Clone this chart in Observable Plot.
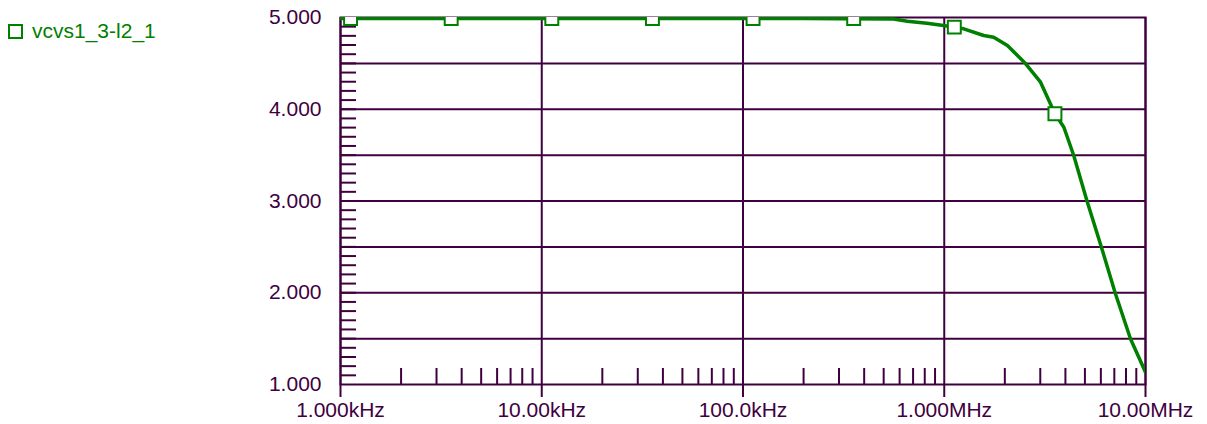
<!DOCTYPE html>
<html>
<head>
<meta charset="utf-8">
<script src="https://cdn.jsdelivr.net/npm/d3@7"></script>
<script src="https://cdn.jsdelivr.net/npm/@observablehq/plot@0.6"></script>
<style>
  html, body { margin: 0; padding: 0; background: #fff; }
  #wrap { position: relative; width: 1207px; height: 424px; font-family: "Liberation Sans", Arial, sans-serif; }
  #legend { position: absolute; left: 8px; top: 19px; display: flex; align-items: center; color: #008000; font-size: 21px; }
  #legend .swatch { width: 11px; height: 11px; border: 2px solid #008000; background: #fff; margin-right: 9px; }
</style>
</head>
<body>
<div id="wrap">
  <div id="legend"><span class="swatch"></span><span id="legend-label"></span></div>
</div>
<script>
// Trace name
const seriesName = "vcvs1_3-l2_1";

// Frequency response (Hz) and output level
const freq = [1e3, 1e4, 1e5, 2e5, 3e5, 5.6e5, 6.55e5, 8.2e5, 9.9e5, 1.25e6, 1.57e6, 1.76e6,
              2.06e6, 2.54e6, 3.01e6, 3.548e6, 3.93e6, 4.4e6, 5.13e6, 6.04e6, 7.09e6, 8.42e6, 1e7];
const level = [4.99, 4.99, 4.99, 4.988, 4.987, 4.984, 4.96, 4.938, 4.913, 4.877, 4.804, 4.785,
               4.695, 4.495, 4.295, 3.95, 3.804, 3.496, 2.995, 2.496, 1.989, 1.498, 1.134];

// Marker positions along the trace
const markerFreq = [1.122e3, 3.548e3, 1.122e4, 3.548e4, 1.122e5, 3.548e5, 1.122e6, 3.548e6];
const markerLevel = [4.99, 4.99, 4.99, 4.99, 4.99, 4.988, 4.895, 3.95];

// Axis ticks and labels
const xMajor = [1e3, 1e4, 1e5, 1e6, 1e7];
const xLabels = ["1.000kHz", "10.00kHz", "100.0kHz", "1.000MHz", "10.00MHz"];
const xMinor = [2, 3, 4, 5, 6, 7, 8, 9].flatMap(m => [1e3, 1e4, 1e5, 1e6].map(d => m * d));
const yMajor = [1, 2, 3, 4, 5];
const yLabels = ["1.000", "2.000", "3.000", "4.000", "5.000"];
const yGrid = [1.5, 2, 2.5, 3, 3.5, 4, 4.5];
const yMinor = d3.range(11, 50).map(v => v / 10);

const ink = "#400040";
const green = "#008000";
const W = 1207, H = 424;
const mL = 340, mR = 62, mT = 17, mB = 40;
const plotW = W - mL - mR, plotH = H - mT - mB;

const trace = freq.map((f, i) => ({f, v: level[i]}));
const markers = markerFreq.map((f, i) => ({f, v: markerLevel[i]}));
const xLabelOf = d => xLabels[xMajor.findIndex(t => Math.abs(t - d) < 1e-6 * t)];
const yLabelOf = d => yLabels[yMajor.findIndex(t => Math.abs(t - d) < 1e-9)];

document.getElementById("legend-label").textContent = seriesName;

const chart = Plot.plot({
  width: W,
  height: H,
  marginLeft: mL,
  marginRight: mR,
  marginTop: mT,
  marginBottom: mB,
  style: {fontFamily: "\"Liberation Sans\", Arial, sans-serif", fontSize: "21px", color: ink, background: "transparent", overflow: "visible"},
  x: {type: "log", domain: [1e3, 1e7]},
  y: {type: "linear", domain: [1, 5]},
  marks: [
    Plot.ruleY(yGrid, {y: d => d, stroke: ink, strokeWidth: 2}),
    Plot.ruleX(xMajor, {x: d => d, stroke: ink, strokeWidth: 2}),
    Plot.tickX(xMinor, {x: d => d, stroke: ink, strokeWidth: 2, insetTop: plotH - 16}),
    Plot.tickY(yMinor, {y: d => d, stroke: ink, strokeWidth: 2, insetRight: plotW - 16}),
    Plot.axisX({ticks: xMajor, tickFormat: xLabelOf, tickSize: 13, tickPadding: 5,
                stroke: ink, strokeWidth: 2, fill: ink, fontSize: 21, label: null}),
    Plot.axisY({ticks: yMajor, tickFormat: yLabelOf, tickSize: 0, tickPadding: 19,
                fill: ink, fontSize: 21, label: null}),
    Plot.frame({stroke: ink, strokeWidth: 2}),
    Plot.line(trace, {x: "f", y: "v", stroke: green, strokeWidth: 3.5, clip: true}),
    Plot.dot(markers, {x: "f", y: "v", symbol: "square", r: 7.3, stroke: green, strokeWidth: 2, fill: "#fff", clip: true})
  ]
});

document.getElementById("wrap").appendChild(chart);
</script>
</body>
</html>
